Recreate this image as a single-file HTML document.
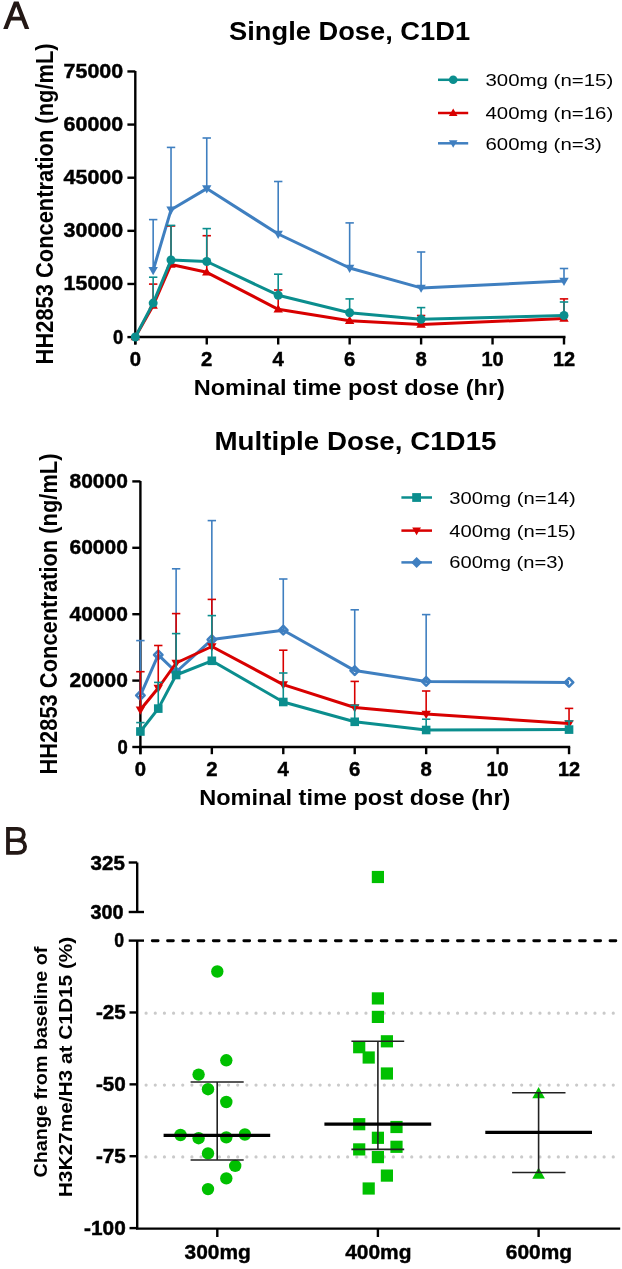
<!DOCTYPE html><html><head><meta charset="utf-8"><title>Figure</title><style>html,body{margin:0;padding:0;background:#fff;overflow:hidden}svg{display:block;will-change:transform}text{font-family:"Liberation Sans",sans-serif}</style></head><body>
<svg width="622" height="1269" viewBox="0 0 622 1269">
<rect width="622" height="1269" fill="#fff"/>
<path d="M3.2 28.9 L13.9 1.6 L18.6 1.6 L29.3 28.9 L24.8 28.9 L21.47 20.4 L11.03 20.4 L7.7 28.9 Z M12.44 16.8 L20.06 16.8 L16.25 6.6 Z" fill="#231815" fill-rule="evenodd"/>
<path d="M8.0 828.85 L17.2 828.85 C21.6 828.85 23.8 831.3 23.8 834.5 C23.8 837.8 21.4 840.3 17.4 840.3 C22.4 840.3 25.1 843.0 25.1 846.6 C25.1 850.3 22.5 852.8 17.8 852.8 L8.0 852.8 Z" fill="none" stroke="#231815" stroke-width="3.8" stroke-linejoin="miter"/>
<line x1="8.0" y1="840.3" x2="18" y2="840.3" stroke="#231815" stroke-width="3.4"/>
<text x="349.55" y="39.8" font-size="26" font-weight="bold" text-anchor="middle" fill="#000" textLength="241" lengthAdjust="spacingAndGlyphs">Single Dose, C1D1</text>
<line x1="135.3" y1="71.0" x2="135.3" y2="344.5" stroke="#000" stroke-width="2.4"/>
<line x1="127.4" y1="337.1" x2="135.3" y2="337.1" stroke="#000" stroke-width="2.4"/>
<text x="123.2" y="343.6" font-size="19.6" font-weight="bold" text-anchor="end" fill="#000" textLength="10.3" lengthAdjust="spacingAndGlyphs" stroke="#000" stroke-width="0.45">0</text>
<line x1="127.4" y1="283.97" x2="135.3" y2="283.97" stroke="#000" stroke-width="2.4"/>
<text x="123.2" y="290.47" font-size="19.6" font-weight="bold" text-anchor="end" fill="#000" textLength="59.6" lengthAdjust="spacingAndGlyphs" stroke="#000" stroke-width="0.45">15000</text>
<line x1="127.4" y1="230.84000000000003" x2="135.3" y2="230.84000000000003" stroke="#000" stroke-width="2.4"/>
<text x="123.2" y="237.34000000000003" font-size="19.6" font-weight="bold" text-anchor="end" fill="#000" textLength="59.6" lengthAdjust="spacingAndGlyphs" stroke="#000" stroke-width="0.45">30000</text>
<line x1="127.4" y1="177.71" x2="135.3" y2="177.71" stroke="#000" stroke-width="2.4"/>
<text x="123.2" y="184.21" font-size="19.6" font-weight="bold" text-anchor="end" fill="#000" textLength="59.6" lengthAdjust="spacingAndGlyphs" stroke="#000" stroke-width="0.45">45000</text>
<line x1="127.4" y1="124.58000000000001" x2="135.3" y2="124.58000000000001" stroke="#000" stroke-width="2.4"/>
<text x="123.2" y="131.08" font-size="19.6" font-weight="bold" text-anchor="end" fill="#000" textLength="59.6" lengthAdjust="spacingAndGlyphs" stroke="#000" stroke-width="0.45">60000</text>
<line x1="127.4" y1="71.44999999999999" x2="135.3" y2="71.44999999999999" stroke="#000" stroke-width="2.4"/>
<text x="123.2" y="77.94999999999999" font-size="19.6" font-weight="bold" text-anchor="end" fill="#000" textLength="59.6" lengthAdjust="spacingAndGlyphs" stroke="#000" stroke-width="0.45">75000</text>
<line x1="134.10000000000002" y1="337.0" x2="565.5" y2="337.0" stroke="#000" stroke-width="2.4"/>
<line x1="135.3" y1="337.0" x2="135.3" y2="344.5" stroke="#000" stroke-width="2.4"/>
<text x="135.3" y="366.3" font-size="19.6" font-weight="bold" text-anchor="middle" fill="#000" textLength="11.3" lengthAdjust="spacingAndGlyphs" stroke="#000" stroke-width="0.45">0</text>
<line x1="206.75" y1="337.0" x2="206.75" y2="344.5" stroke="#000" stroke-width="2.4"/>
<text x="206.75" y="366.3" font-size="19.6" font-weight="bold" text-anchor="middle" fill="#000" textLength="11.3" lengthAdjust="spacingAndGlyphs" stroke="#000" stroke-width="0.45">2</text>
<line x1="278.20000000000005" y1="337.0" x2="278.20000000000005" y2="344.5" stroke="#000" stroke-width="2.4"/>
<text x="278.20000000000005" y="366.3" font-size="19.6" font-weight="bold" text-anchor="middle" fill="#000" textLength="11.3" lengthAdjust="spacingAndGlyphs" stroke="#000" stroke-width="0.45">4</text>
<line x1="349.65000000000003" y1="337.0" x2="349.65000000000003" y2="344.5" stroke="#000" stroke-width="2.4"/>
<text x="349.65000000000003" y="366.3" font-size="19.6" font-weight="bold" text-anchor="middle" fill="#000" textLength="11.3" lengthAdjust="spacingAndGlyphs" stroke="#000" stroke-width="0.45">6</text>
<line x1="421.1" y1="337.0" x2="421.1" y2="344.5" stroke="#000" stroke-width="2.4"/>
<text x="421.1" y="366.3" font-size="19.6" font-weight="bold" text-anchor="middle" fill="#000" textLength="11.3" lengthAdjust="spacingAndGlyphs" stroke="#000" stroke-width="0.45">8</text>
<line x1="492.55" y1="337.0" x2="492.55" y2="344.5" stroke="#000" stroke-width="2.4"/>
<text x="492.55" y="366.3" font-size="19.6" font-weight="bold" text-anchor="middle" fill="#000" textLength="22.2" lengthAdjust="spacingAndGlyphs" stroke="#000" stroke-width="0.45">10</text>
<line x1="564.0" y1="337.0" x2="564.0" y2="344.5" stroke="#000" stroke-width="2.4"/>
<text x="564.0" y="366.3" font-size="19.6" font-weight="bold" text-anchor="middle" fill="#000" textLength="22.2" lengthAdjust="spacingAndGlyphs" stroke="#000" stroke-width="0.45">12</text>
<text x="349.3" y="395.0" font-size="22.3" font-weight="bold" text-anchor="middle" fill="#000" textLength="311.2" lengthAdjust="spacingAndGlyphs">Nominal time post dose (hr)</text>
<text transform="translate(52.8 364.4) rotate(-90)" x="0" y="0" font-size="23" font-weight="bold" fill="#000" textLength="321" lengthAdjust="spacingAndGlyphs">HH2853 Concentration (ng/mL)</text>
<line x1="153.16250000000002" y1="270.3" x2="153.16250000000002" y2="219.6" stroke="#3f7fc0" stroke-width="1.6"/>
<line x1="148.96250000000003" y1="219.6" x2="157.3625" y2="219.6" stroke="#3f7fc0" stroke-width="1.6"/>
<line x1="171.025" y1="209.8" x2="171.025" y2="147.4" stroke="#3f7fc0" stroke-width="1.6"/>
<line x1="166.82500000000002" y1="147.4" x2="175.225" y2="147.4" stroke="#3f7fc0" stroke-width="1.6"/>
<line x1="206.75" y1="188.6" x2="206.75" y2="138.0" stroke="#3f7fc0" stroke-width="1.6"/>
<line x1="202.55" y1="138.0" x2="210.95" y2="138.0" stroke="#3f7fc0" stroke-width="1.6"/>
<line x1="278.20000000000005" y1="234.0" x2="278.20000000000005" y2="181.5" stroke="#3f7fc0" stroke-width="1.6"/>
<line x1="274.00000000000006" y1="181.5" x2="282.40000000000003" y2="181.5" stroke="#3f7fc0" stroke-width="1.6"/>
<line x1="349.65000000000003" y1="268.0" x2="349.65000000000003" y2="222.9" stroke="#3f7fc0" stroke-width="1.6"/>
<line x1="345.45000000000005" y1="222.9" x2="353.85" y2="222.9" stroke="#3f7fc0" stroke-width="1.6"/>
<line x1="421.1" y1="287.9" x2="421.1" y2="252.0" stroke="#3f7fc0" stroke-width="1.6"/>
<line x1="416.90000000000003" y1="252.0" x2="425.3" y2="252.0" stroke="#3f7fc0" stroke-width="1.6"/>
<line x1="564.0" y1="281.1" x2="564.0" y2="268.5" stroke="#3f7fc0" stroke-width="1.6"/>
<line x1="559.8" y1="268.5" x2="568.2" y2="268.5" stroke="#3f7fc0" stroke-width="1.6"/>
<polyline points="153.16,270.30 171.03,209.80 206.75,188.60 278.20,234.00 349.65,268.00 421.10,287.90 564.00,281.10" fill="none" stroke="#3f7fc0" stroke-width="3.0" stroke-linejoin="round" stroke-linecap="butt"/>
<polygon points="153.16,275.21 157.86,267.03 148.46,267.03" fill="#3f7fc0"/>
<polygon points="171.03,214.71 175.72,206.53 166.33,206.53" fill="#3f7fc0"/>
<polygon points="206.75,193.51 211.45,185.33 202.05,185.33" fill="#3f7fc0"/>
<polygon points="278.20,238.91 282.90,230.73 273.50,230.73" fill="#3f7fc0"/>
<polygon points="349.65,272.91 354.35,264.73 344.95,264.73" fill="#3f7fc0"/>
<polygon points="421.10,292.81 425.80,284.63 416.40,284.63" fill="#3f7fc0"/>
<polygon points="564.00,286.01 568.70,277.83 559.30,277.83" fill="#3f7fc0"/>
<line x1="153.16250000000002" y1="305.5" x2="153.16250000000002" y2="284.1" stroke="#d80000" stroke-width="1.6"/>
<line x1="148.96250000000003" y1="284.1" x2="157.3625" y2="284.1" stroke="#d80000" stroke-width="1.6"/>
<line x1="171.025" y1="264.5" x2="171.025" y2="226.0" stroke="#d80000" stroke-width="1.6"/>
<line x1="166.82500000000002" y1="226.0" x2="175.225" y2="226.0" stroke="#d80000" stroke-width="1.6"/>
<line x1="206.75" y1="272.3" x2="206.75" y2="235.7" stroke="#d80000" stroke-width="1.6"/>
<line x1="202.55" y1="235.7" x2="210.95" y2="235.7" stroke="#d80000" stroke-width="1.6"/>
<line x1="278.20000000000005" y1="309.3" x2="278.20000000000005" y2="290.0" stroke="#d80000" stroke-width="1.6"/>
<line x1="274.00000000000006" y1="290.0" x2="282.40000000000003" y2="290.0" stroke="#d80000" stroke-width="1.6"/>
<line x1="421.1" y1="324.6" x2="421.1" y2="315.5" stroke="#d80000" stroke-width="1.6"/>
<line x1="416.90000000000003" y1="315.5" x2="425.3" y2="315.5" stroke="#d80000" stroke-width="1.6"/>
<line x1="564.0" y1="318.5" x2="564.0" y2="298.9" stroke="#d80000" stroke-width="1.6"/>
<line x1="559.8" y1="298.9" x2="568.2" y2="298.9" stroke="#d80000" stroke-width="1.6"/>
<polyline points="135.30,337.00 153.16,305.50 171.03,264.50 206.75,272.30 278.20,309.30 349.65,320.70 421.10,324.60 564.00,318.50" fill="none" stroke="#d80000" stroke-width="3.0" stroke-linejoin="round" stroke-linecap="butt"/>
<polygon points="135.30,332.09 140.00,340.27 130.60,340.27" fill="#d80000"/>
<polygon points="153.16,300.59 157.86,308.77 148.46,308.77" fill="#d80000"/>
<polygon points="171.03,259.59 175.72,267.77 166.33,267.77" fill="#d80000"/>
<polygon points="206.75,267.39 211.45,275.57 202.05,275.57" fill="#d80000"/>
<polygon points="278.20,304.39 282.90,312.57 273.50,312.57" fill="#d80000"/>
<polygon points="349.65,315.79 354.35,323.97 344.95,323.97" fill="#d80000"/>
<polygon points="421.10,319.69 425.80,327.87 416.40,327.87" fill="#d80000"/>
<polygon points="564.00,313.59 568.70,321.77 559.30,321.77" fill="#d80000"/>
<line x1="153.16250000000002" y1="303.1" x2="153.16250000000002" y2="277.2" stroke="#0b8e8e" stroke-width="1.6"/>
<line x1="148.96250000000003" y1="277.2" x2="157.3625" y2="277.2" stroke="#0b8e8e" stroke-width="1.6"/>
<line x1="171.025" y1="260.0" x2="171.025" y2="225.4" stroke="#0b8e8e" stroke-width="1.6"/>
<line x1="166.82500000000002" y1="225.4" x2="175.225" y2="225.4" stroke="#0b8e8e" stroke-width="1.6"/>
<line x1="206.75" y1="261.5" x2="206.75" y2="228.6" stroke="#0b8e8e" stroke-width="1.6"/>
<line x1="202.55" y1="228.6" x2="210.95" y2="228.6" stroke="#0b8e8e" stroke-width="1.6"/>
<line x1="278.20000000000005" y1="295.2" x2="278.20000000000005" y2="274.2" stroke="#0b8e8e" stroke-width="1.6"/>
<line x1="274.00000000000006" y1="274.2" x2="282.40000000000003" y2="274.2" stroke="#0b8e8e" stroke-width="1.6"/>
<line x1="349.65000000000003" y1="312.8" x2="349.65000000000003" y2="298.9" stroke="#0b8e8e" stroke-width="1.6"/>
<line x1="345.45000000000005" y1="298.9" x2="353.85" y2="298.9" stroke="#0b8e8e" stroke-width="1.6"/>
<line x1="421.1" y1="319.2" x2="421.1" y2="307.6" stroke="#0b8e8e" stroke-width="1.6"/>
<line x1="416.90000000000003" y1="307.6" x2="425.3" y2="307.6" stroke="#0b8e8e" stroke-width="1.6"/>
<line x1="564.0" y1="315.5" x2="564.0" y2="302.0" stroke="#0b8e8e" stroke-width="1.6"/>
<line x1="559.8" y1="302.0" x2="568.2" y2="302.0" stroke="#0b8e8e" stroke-width="1.6"/>
<polyline points="135.30,337.00 153.16,303.10 171.03,260.00 206.75,261.50 278.20,295.20 349.65,312.80 421.10,319.20 564.00,315.50" fill="none" stroke="#0b8e8e" stroke-width="3.0" stroke-linejoin="round" stroke-linecap="butt"/>
<circle cx="135.3" cy="337" r="4.5" fill="#0b8e8e"/>
<circle cx="153.16250000000002" cy="303.1" r="4.5" fill="#0b8e8e"/>
<circle cx="171.025" cy="260.0" r="4.5" fill="#0b8e8e"/>
<circle cx="206.75" cy="261.5" r="4.5" fill="#0b8e8e"/>
<circle cx="278.20000000000005" cy="295.2" r="4.5" fill="#0b8e8e"/>
<circle cx="349.65000000000003" cy="312.8" r="4.5" fill="#0b8e8e"/>
<circle cx="421.1" cy="319.2" r="4.5" fill="#0b8e8e"/>
<circle cx="564.0" cy="315.5" r="4.5" fill="#0b8e8e"/>
<line x1="438" y1="79.8" x2="468.2" y2="79.8" stroke="#0b8e8e" stroke-width="2.5"/>
<circle cx="453.2" cy="79.8" r="4.3" fill="#0b8e8e"/>
<text x="485.5" y="85.9" font-size="16.4" font-weight="normal" text-anchor="start" fill="#000" textLength="127.7" lengthAdjust="spacingAndGlyphs">300mg (n=15)</text>
<line x1="438" y1="113.0" x2="468.2" y2="113.0" stroke="#d80000" stroke-width="2.5"/>
<polygon points="453.20,108.51 457.50,115.99 448.90,115.99" fill="#d80000"/>
<text x="485.5" y="119.3" font-size="16.4" font-weight="normal" text-anchor="start" fill="#000" textLength="127.7" lengthAdjust="spacingAndGlyphs">400mg (n=16)</text>
<line x1="438" y1="143.3" x2="468.2" y2="143.3" stroke="#3f7fc0" stroke-width="2.5"/>
<polygon points="453.20,147.79 457.50,140.31 448.90,140.31" fill="#3f7fc0"/>
<text x="485.5" y="149.6" font-size="16.4" font-weight="normal" text-anchor="start" fill="#000" textLength="116.3" lengthAdjust="spacingAndGlyphs">600mg (n=3)</text>
<text x="355.5" y="449.6" font-size="26" font-weight="bold" text-anchor="middle" fill="#000" textLength="282" lengthAdjust="spacingAndGlyphs">Multiple Dose, C1D15</text>
<line x1="140.4" y1="481.0" x2="140.4" y2="754.2" stroke="#000" stroke-width="2.4"/>
<line x1="132.3" y1="747.0" x2="140.4" y2="747.0" stroke="#000" stroke-width="2.4"/>
<text x="127.8" y="753.5" font-size="19.6" font-weight="bold" text-anchor="end" fill="#000" textLength="10.3" lengthAdjust="spacingAndGlyphs" stroke="#000" stroke-width="0.45">0</text>
<line x1="132.3" y1="680.6" x2="140.4" y2="680.6" stroke="#000" stroke-width="2.4"/>
<text x="127.8" y="687.1" font-size="19.6" font-weight="bold" text-anchor="end" fill="#000" textLength="58.2" lengthAdjust="spacingAndGlyphs" stroke="#000" stroke-width="0.45">20000</text>
<line x1="132.3" y1="614.2" x2="140.4" y2="614.2" stroke="#000" stroke-width="2.4"/>
<text x="127.8" y="620.7" font-size="19.6" font-weight="bold" text-anchor="end" fill="#000" textLength="58.2" lengthAdjust="spacingAndGlyphs" stroke="#000" stroke-width="0.45">40000</text>
<line x1="132.3" y1="547.8" x2="140.4" y2="547.8" stroke="#000" stroke-width="2.4"/>
<text x="127.8" y="554.3" font-size="19.6" font-weight="bold" text-anchor="end" fill="#000" textLength="58.2" lengthAdjust="spacingAndGlyphs" stroke="#000" stroke-width="0.45">60000</text>
<line x1="132.3" y1="481.4" x2="140.4" y2="481.4" stroke="#000" stroke-width="2.4"/>
<text x="127.8" y="487.9" font-size="19.6" font-weight="bold" text-anchor="end" fill="#000" textLength="58.2" lengthAdjust="spacingAndGlyphs" stroke="#000" stroke-width="0.45">80000</text>
<line x1="139.20000000000002" y1="747.0" x2="570.2" y2="747.0" stroke="#000" stroke-width="2.4"/>
<line x1="140.4" y1="747.0" x2="140.4" y2="754.2" stroke="#000" stroke-width="2.4"/>
<text x="140.4" y="776.2" font-size="19.6" font-weight="bold" text-anchor="middle" fill="#000" textLength="11.3" lengthAdjust="spacingAndGlyphs" stroke="#000" stroke-width="0.45">0</text>
<line x1="211.84" y1="747.0" x2="211.84" y2="754.2" stroke="#000" stroke-width="2.4"/>
<text x="211.84" y="776.2" font-size="19.6" font-weight="bold" text-anchor="middle" fill="#000" textLength="11.3" lengthAdjust="spacingAndGlyphs" stroke="#000" stroke-width="0.45">2</text>
<line x1="283.28" y1="747.0" x2="283.28" y2="754.2" stroke="#000" stroke-width="2.4"/>
<text x="283.28" y="776.2" font-size="19.6" font-weight="bold" text-anchor="middle" fill="#000" textLength="11.3" lengthAdjust="spacingAndGlyphs" stroke="#000" stroke-width="0.45">4</text>
<line x1="354.72" y1="747.0" x2="354.72" y2="754.2" stroke="#000" stroke-width="2.4"/>
<text x="354.72" y="776.2" font-size="19.6" font-weight="bold" text-anchor="middle" fill="#000" textLength="11.3" lengthAdjust="spacingAndGlyphs" stroke="#000" stroke-width="0.45">6</text>
<line x1="426.15999999999997" y1="747.0" x2="426.15999999999997" y2="754.2" stroke="#000" stroke-width="2.4"/>
<text x="426.15999999999997" y="776.2" font-size="19.6" font-weight="bold" text-anchor="middle" fill="#000" textLength="11.3" lengthAdjust="spacingAndGlyphs" stroke="#000" stroke-width="0.45">8</text>
<line x1="497.6" y1="747.0" x2="497.6" y2="754.2" stroke="#000" stroke-width="2.4"/>
<text x="497.6" y="776.2" font-size="19.6" font-weight="bold" text-anchor="middle" fill="#000" textLength="22.2" lengthAdjust="spacingAndGlyphs" stroke="#000" stroke-width="0.45">10</text>
<line x1="569.04" y1="747.0" x2="569.04" y2="754.2" stroke="#000" stroke-width="2.4"/>
<text x="569.04" y="776.2" font-size="19.6" font-weight="bold" text-anchor="middle" fill="#000" textLength="22.2" lengthAdjust="spacingAndGlyphs" stroke="#000" stroke-width="0.45">12</text>
<text x="354.8" y="805.3" font-size="22.3" font-weight="bold" text-anchor="middle" fill="#000" textLength="311.2" lengthAdjust="spacingAndGlyphs">Nominal time post dose (hr)</text>
<text transform="translate(57.3 774.5) rotate(-90)" x="0" y="0" font-size="23" font-weight="bold" fill="#000" textLength="321" lengthAdjust="spacingAndGlyphs">HH2853 Concentration (ng/mL)</text>
<line x1="140.4" y1="695.3" x2="140.4" y2="640.6" stroke="#3f7fc0" stroke-width="1.6"/>
<line x1="136.20000000000002" y1="640.6" x2="144.6" y2="640.6" stroke="#3f7fc0" stroke-width="1.6"/>
<line x1="176.12" y1="672.0" x2="176.12" y2="568.8" stroke="#3f7fc0" stroke-width="1.6"/>
<line x1="171.92000000000002" y1="568.8" x2="180.32" y2="568.8" stroke="#3f7fc0" stroke-width="1.6"/>
<line x1="211.84" y1="639.6" x2="211.84" y2="520.6" stroke="#3f7fc0" stroke-width="1.6"/>
<line x1="207.64000000000001" y1="520.6" x2="216.04" y2="520.6" stroke="#3f7fc0" stroke-width="1.6"/>
<line x1="283.28" y1="630.2" x2="283.28" y2="579.0" stroke="#3f7fc0" stroke-width="1.6"/>
<line x1="279.08" y1="579.0" x2="287.47999999999996" y2="579.0" stroke="#3f7fc0" stroke-width="1.6"/>
<line x1="354.72" y1="670.6" x2="354.72" y2="609.8" stroke="#3f7fc0" stroke-width="1.6"/>
<line x1="350.52000000000004" y1="609.8" x2="358.92" y2="609.8" stroke="#3f7fc0" stroke-width="1.6"/>
<line x1="426.15999999999997" y1="681.4" x2="426.15999999999997" y2="614.6" stroke="#3f7fc0" stroke-width="1.6"/>
<line x1="421.96" y1="614.6" x2="430.35999999999996" y2="614.6" stroke="#3f7fc0" stroke-width="1.6"/>
<polyline points="140.40,695.30 158.26,654.80 176.12,672.00 211.84,639.60 283.28,630.20 354.72,670.60 426.16,681.40 569.04,682.40" fill="none" stroke="#3f7fc0" stroke-width="3.0" stroke-linejoin="round" stroke-linecap="butt"/>
<polygon points="140.4,691.10 144.60,695.3 140.4,699.50 136.20,695.3" fill="none" stroke="#3f7fc0" stroke-width="2.6" stroke-linejoin="round"/>
<polygon points="158.26,650.60 162.46,654.8 158.26,659.00 154.06,654.8" fill="none" stroke="#3f7fc0" stroke-width="2.6" stroke-linejoin="round"/>
<polygon points="176.12,667.80 180.32,672.0 176.12,676.20 171.92,672.0" fill="none" stroke="#3f7fc0" stroke-width="2.6" stroke-linejoin="round"/>
<polygon points="211.84,635.40 216.04,639.6 211.84,643.80 207.64,639.6" fill="none" stroke="#3f7fc0" stroke-width="2.6" stroke-linejoin="round"/>
<polygon points="283.28,626.00 287.48,630.2 283.28,634.40 279.08,630.2" fill="none" stroke="#3f7fc0" stroke-width="2.6" stroke-linejoin="round"/>
<polygon points="354.72,666.40 358.92,670.6 354.72,674.80 350.52,670.6" fill="none" stroke="#3f7fc0" stroke-width="2.6" stroke-linejoin="round"/>
<polygon points="426.15999999999997,677.20 430.36,681.4 426.15999999999997,685.60 421.96,681.4" fill="none" stroke="#3f7fc0" stroke-width="2.6" stroke-linejoin="round"/>
<polygon points="569.04,678.20 573.24,682.4 569.04,686.60 564.84,682.4" fill="none" stroke="#3f7fc0" stroke-width="2.6" stroke-linejoin="round"/>
<line x1="140.4" y1="709.8" x2="140.4" y2="671.7" stroke="#d80000" stroke-width="1.6"/>
<line x1="136.20000000000002" y1="671.7" x2="144.6" y2="671.7" stroke="#d80000" stroke-width="1.6"/>
<line x1="158.26" y1="688.0" x2="158.26" y2="645.5" stroke="#d80000" stroke-width="1.6"/>
<line x1="154.06" y1="645.5" x2="162.45999999999998" y2="645.5" stroke="#d80000" stroke-width="1.6"/>
<line x1="176.12" y1="663.0" x2="176.12" y2="613.6" stroke="#d80000" stroke-width="1.6"/>
<line x1="171.92000000000002" y1="613.6" x2="180.32" y2="613.6" stroke="#d80000" stroke-width="1.6"/>
<line x1="211.84" y1="646.5" x2="211.84" y2="599.4" stroke="#d80000" stroke-width="1.6"/>
<line x1="207.64000000000001" y1="599.4" x2="216.04" y2="599.4" stroke="#d80000" stroke-width="1.6"/>
<line x1="283.28" y1="684.6" x2="283.28" y2="650.2" stroke="#d80000" stroke-width="1.6"/>
<line x1="279.08" y1="650.2" x2="287.47999999999996" y2="650.2" stroke="#d80000" stroke-width="1.6"/>
<line x1="354.72" y1="707.5" x2="354.72" y2="681.4" stroke="#d80000" stroke-width="1.6"/>
<line x1="350.52000000000004" y1="681.4" x2="358.92" y2="681.4" stroke="#d80000" stroke-width="1.6"/>
<line x1="426.15999999999997" y1="714.0" x2="426.15999999999997" y2="691.0" stroke="#d80000" stroke-width="1.6"/>
<line x1="421.96" y1="691.0" x2="430.35999999999996" y2="691.0" stroke="#d80000" stroke-width="1.6"/>
<line x1="569.04" y1="723.5" x2="569.04" y2="708.4" stroke="#d80000" stroke-width="1.6"/>
<line x1="564.8399999999999" y1="708.4" x2="573.24" y2="708.4" stroke="#d80000" stroke-width="1.6"/>
<polyline points="140.40,709.80 158.26,688.00 176.12,663.00 211.84,646.50 283.28,684.60 354.72,707.50 426.16,714.00 569.04,723.50" fill="none" stroke="#d80000" stroke-width="3.0" stroke-linejoin="round" stroke-linecap="butt"/>
<polygon points="140.40,714.71 145.10,706.53 135.70,706.53" fill="#d80000"/>
<polygon points="158.26,692.91 162.96,684.73 153.56,684.73" fill="#d80000"/>
<polygon points="176.12,667.91 180.82,659.73 171.42,659.73" fill="#d80000"/>
<polygon points="211.84,651.41 216.54,643.23 207.14,643.23" fill="#d80000"/>
<polygon points="283.28,689.51 287.98,681.33 278.58,681.33" fill="#d80000"/>
<polygon points="354.72,712.41 359.42,704.23 350.02,704.23" fill="#d80000"/>
<polygon points="426.16,718.91 430.86,710.73 421.46,710.73" fill="#d80000"/>
<polygon points="569.04,728.41 573.74,720.23 564.34,720.23" fill="#d80000"/>
<line x1="140.4" y1="731.5" x2="140.4" y2="722.6" stroke="#0b8e8e" stroke-width="1.6"/>
<line x1="136.20000000000002" y1="722.6" x2="144.6" y2="722.6" stroke="#0b8e8e" stroke-width="1.6"/>
<line x1="158.26" y1="708.6" x2="158.26" y2="682.4" stroke="#0b8e8e" stroke-width="1.6"/>
<line x1="154.06" y1="682.4" x2="162.45999999999998" y2="682.4" stroke="#0b8e8e" stroke-width="1.6"/>
<line x1="176.12" y1="675.0" x2="176.12" y2="633.6" stroke="#0b8e8e" stroke-width="1.6"/>
<line x1="171.92000000000002" y1="633.6" x2="180.32" y2="633.6" stroke="#0b8e8e" stroke-width="1.6"/>
<line x1="211.84" y1="660.8" x2="211.84" y2="615.6" stroke="#0b8e8e" stroke-width="1.6"/>
<line x1="207.64000000000001" y1="615.6" x2="216.04" y2="615.6" stroke="#0b8e8e" stroke-width="1.6"/>
<line x1="283.28" y1="702.0" x2="283.28" y2="673.0" stroke="#0b8e8e" stroke-width="1.6"/>
<line x1="279.08" y1="673.0" x2="287.47999999999996" y2="673.0" stroke="#0b8e8e" stroke-width="1.6"/>
<line x1="354.72" y1="721.8" x2="354.72" y2="705.3" stroke="#0b8e8e" stroke-width="1.6"/>
<line x1="350.52000000000004" y1="705.3" x2="358.92" y2="705.3" stroke="#0b8e8e" stroke-width="1.6"/>
<line x1="426.15999999999997" y1="730.0" x2="426.15999999999997" y2="719.2" stroke="#0b8e8e" stroke-width="1.6"/>
<line x1="421.96" y1="719.2" x2="430.35999999999996" y2="719.2" stroke="#0b8e8e" stroke-width="1.6"/>
<line x1="569.04" y1="729.6" x2="569.04" y2="721.0" stroke="#0b8e8e" stroke-width="1.6"/>
<line x1="564.8399999999999" y1="721.0" x2="573.24" y2="721.0" stroke="#0b8e8e" stroke-width="1.6"/>
<polyline points="140.40,731.50 158.26,708.60 176.12,675.00 211.84,660.80 283.28,702.00 354.72,721.80 426.16,730.00 569.04,729.60" fill="none" stroke="#0b8e8e" stroke-width="3.0" stroke-linejoin="round" stroke-linecap="butt"/>
<rect x="136.1" y="727.2" width="8.6" height="8.6" fill="#0b8e8e"/>
<rect x="153.95999999999998" y="704.3000000000001" width="8.6" height="8.6" fill="#0b8e8e"/>
<rect x="171.82" y="670.7" width="8.6" height="8.6" fill="#0b8e8e"/>
<rect x="207.54" y="656.5" width="8.6" height="8.6" fill="#0b8e8e"/>
<rect x="278.97999999999996" y="697.7" width="8.6" height="8.6" fill="#0b8e8e"/>
<rect x="350.42" y="717.5" width="8.6" height="8.6" fill="#0b8e8e"/>
<rect x="421.85999999999996" y="725.7" width="8.6" height="8.6" fill="#0b8e8e"/>
<rect x="564.74" y="725.3000000000001" width="8.6" height="8.6" fill="#0b8e8e"/>
<line x1="401.4" y1="497.5" x2="432" y2="497.5" stroke="#0b8e8e" stroke-width="2.5"/>
<rect x="412.20000000000005" y="493.1" width="8.8" height="8.8" fill="#0b8e8e"/>
<text x="449.2" y="504.4" font-size="16.7" font-weight="normal" text-anchor="start" fill="#000" textLength="126.5" lengthAdjust="spacingAndGlyphs">300mg (n=14)</text>
<line x1="401.4" y1="530.6" x2="432" y2="530.6" stroke="#d80000" stroke-width="2.5"/>
<polygon points="416.60,535.19 421.00,527.54 412.20,527.54" fill="#d80000"/>
<text x="449.2" y="537.1" font-size="16.7" font-weight="normal" text-anchor="start" fill="#000" textLength="126.5" lengthAdjust="spacingAndGlyphs">400mg (n=15)</text>
<line x1="401.4" y1="562.4" x2="432" y2="562.4" stroke="#3f7fc0" stroke-width="2.5"/>
<polygon points="416.60,556.90 422.10,562.40 416.60,567.90 411.10,562.40" fill="#3f7fc0"/>
<text x="449.2" y="568.2" font-size="16.7" font-weight="normal" text-anchor="start" fill="#000" textLength="115" lengthAdjust="spacingAndGlyphs">600mg (n=3)</text>
<line x1="137.2" y1="862.5" x2="137.2" y2="912.0" stroke="#000" stroke-width="2.4"/>
<line x1="128.7" y1="862.5" x2="137.2" y2="862.5" stroke="#000" stroke-width="2.4"/>
<line x1="128.7" y1="912.0" x2="144.0" y2="912.0" stroke="#000" stroke-width="2.4"/>
<text x="124.8" y="869.6" font-size="20" font-weight="bold" text-anchor="end" fill="#000" textLength="34.2" lengthAdjust="spacingAndGlyphs" stroke="#000" stroke-width="0.5">325</text>
<text x="123.6" y="918.8" font-size="20" font-weight="bold" text-anchor="end" fill="#000" textLength="33.0" lengthAdjust="spacingAndGlyphs" stroke="#000" stroke-width="0.5">300</text>
<line x1="137.2" y1="940.6" x2="137.2" y2="1229.3" stroke="#000" stroke-width="2.4"/>
<line x1="128.7" y1="940.6" x2="144.0" y2="940.6" stroke="#000" stroke-width="2.4"/>
<line x1="129.5" y1="1012.475" x2="137.2" y2="1012.475" stroke="#000" stroke-width="2.4"/>
<text x="125.7" y="1019.275" font-size="20" font-weight="bold" text-anchor="end" fill="#000" textLength="29.8" lengthAdjust="spacingAndGlyphs" stroke="#000" stroke-width="0.5">-25</text>
<line x1="129.5" y1="1084.35" x2="137.2" y2="1084.35" stroke="#000" stroke-width="2.4"/>
<text x="125.7" y="1091.1499999999999" font-size="20" font-weight="bold" text-anchor="end" fill="#000" textLength="29.8" lengthAdjust="spacingAndGlyphs" stroke="#000" stroke-width="0.5">-50</text>
<line x1="129.5" y1="1156.225" x2="137.2" y2="1156.225" stroke="#000" stroke-width="2.4"/>
<text x="125.7" y="1163.0249999999999" font-size="20" font-weight="bold" text-anchor="end" fill="#000" textLength="29.8" lengthAdjust="spacingAndGlyphs" stroke="#000" stroke-width="0.5">-75</text>
<line x1="129.5" y1="1228.1" x2="137.2" y2="1228.1" stroke="#000" stroke-width="2.4"/>
<text x="125.7" y="1234.8999999999999" font-size="20" font-weight="bold" text-anchor="end" fill="#000" textLength="41.6" lengthAdjust="spacingAndGlyphs" stroke="#000" stroke-width="0.5">-100</text>
<text x="124.1" y="947.2" font-size="20" font-weight="bold" text-anchor="end" fill="#000" textLength="9.8" lengthAdjust="spacingAndGlyphs" stroke="#000" stroke-width="0.5">0</text>
<line x1="152.3" y1="940.7" x2="616.6" y2="940.7" stroke="#000" stroke-width="2.9" stroke-linecap="round" stroke-dasharray="5.8 9.458"/>
<line x1="146.1" y1="1013.1750000000001" x2="616" y2="1013.1750000000001" stroke="#cacaca" stroke-width="3.2" stroke-linecap="round" stroke-dasharray="0.01 9.15"/>
<line x1="146.1" y1="1085.05" x2="616" y2="1085.05" stroke="#cacaca" stroke-width="3.2" stroke-linecap="round" stroke-dasharray="0.01 9.15"/>
<line x1="146.1" y1="1156.925" x2="616" y2="1156.925" stroke="#cacaca" stroke-width="3.2" stroke-linecap="round" stroke-dasharray="0.01 9.15"/>
<line x1="136.0" y1="1228.6" x2="620.2" y2="1228.6" stroke="#000" stroke-width="2.4"/>
<line x1="217.3" y1="1228.6" x2="217.3" y2="1237.0" stroke="#000" stroke-width="2.4"/>
<text x="217.70000000000002" y="1259.2" font-size="19.7" font-weight="bold" text-anchor="middle" fill="#000" textLength="66.3" lengthAdjust="spacingAndGlyphs" stroke="#000" stroke-width="0.4">300mg</text>
<line x1="377.9" y1="1228.6" x2="377.9" y2="1237.0" stroke="#000" stroke-width="2.4"/>
<text x="378.29999999999995" y="1259.2" font-size="19.7" font-weight="bold" text-anchor="middle" fill="#000" textLength="66.3" lengthAdjust="spacingAndGlyphs" stroke="#000" stroke-width="0.4">400mg</text>
<line x1="538.6" y1="1228.6" x2="538.6" y2="1237.0" stroke="#000" stroke-width="2.4"/>
<text x="539.0" y="1259.2" font-size="19.7" font-weight="bold" text-anchor="middle" fill="#000" textLength="66.3" lengthAdjust="spacingAndGlyphs" stroke="#000" stroke-width="0.4">600mg</text>
<text transform="translate(46.8 1177.6) rotate(-90)" x="0" y="0" font-size="18.8" font-weight="bold" fill="#000" textLength="231" lengthAdjust="spacingAndGlyphs">Change from baseline of</text>
<text transform="translate(72.3 1197.2) rotate(-90)" x="0" y="0" font-size="18.8" font-weight="bold" fill="#000" textLength="260.5" lengthAdjust="spacingAndGlyphs">H3K27me/H3 at C1D15 (%)</text>
<circle cx="217.3" cy="971.5" r="6.2" fill="#00c000"/>
<circle cx="226.3" cy="1060.3" r="6.2" fill="#00c000"/>
<circle cx="198.6" cy="1074.6" r="6.2" fill="#00c000"/>
<circle cx="208" cy="1089.2" r="6.2" fill="#00c000"/>
<circle cx="226.3" cy="1102" r="6.2" fill="#00c000"/>
<circle cx="180.5" cy="1135" r="6.2" fill="#00c000"/>
<circle cx="198.6" cy="1138.2" r="6.2" fill="#00c000"/>
<circle cx="226.3" cy="1137.4" r="6.2" fill="#00c000"/>
<circle cx="244.9" cy="1134.5" r="6.2" fill="#00c000"/>
<circle cx="208" cy="1153.4" r="6.2" fill="#00c000"/>
<circle cx="235.2" cy="1165.9" r="6.2" fill="#00c000"/>
<circle cx="226.3" cy="1178.4" r="6.2" fill="#00c000"/>
<circle cx="208" cy="1189.1" r="6.2" fill="#00c000"/>
<rect x="371.80" y="870.90" width="12.2" height="12.2" fill="#00c000"/>
<rect x="371.80" y="992.30" width="12.2" height="12.2" fill="#00c000"/>
<rect x="371.80" y="1010.80" width="12.2" height="12.2" fill="#00c000"/>
<rect x="380.80" y="1035.20" width="12.2" height="12.2" fill="#00c000"/>
<rect x="353.10" y="1041.10" width="12.2" height="12.2" fill="#00c000"/>
<rect x="362.60" y="1051.40" width="12.2" height="12.2" fill="#00c000"/>
<rect x="380.80" y="1067.40" width="12.2" height="12.2" fill="#00c000"/>
<rect x="353.10" y="1118.10" width="12.2" height="12.2" fill="#00c000"/>
<rect x="390.40" y="1120.90" width="12.2" height="12.2" fill="#00c000"/>
<rect x="371.80" y="1131.70" width="12.2" height="12.2" fill="#00c000"/>
<rect x="353.10" y="1143.30" width="12.2" height="12.2" fill="#00c000"/>
<rect x="390.40" y="1140.70" width="12.2" height="12.2" fill="#00c000"/>
<rect x="371.80" y="1151.00" width="12.2" height="12.2" fill="#00c000"/>
<rect x="380.80" y="1169.50" width="12.2" height="12.2" fill="#00c000"/>
<rect x="362.60" y="1182.40" width="12.2" height="12.2" fill="#00c000"/>
<polygon points="538.60,1087.00 544.90,1098.30 532.30,1098.30" fill="#00c000"/>
<polygon points="538.60,1167.50 544.90,1178.80 532.30,1178.80" fill="#00c000"/>
<line x1="217.2" y1="1082.0" x2="217.2" y2="1160.0" stroke="#222" stroke-width="1.6"/>
<line x1="190.6" y1="1082.0" x2="243.7" y2="1082.0" stroke="#222" stroke-width="1.6"/>
<line x1="190.6" y1="1160.0" x2="243.7" y2="1160.0" stroke="#222" stroke-width="1.6"/>
<line x1="163.6" y1="1135.3" x2="270.2" y2="1135.3" stroke="#000" stroke-width="3.2"/>
<line x1="377.9" y1="1041.3" x2="377.9" y2="1149.4" stroke="#222" stroke-width="1.6"/>
<line x1="351.4" y1="1041.3" x2="404.2" y2="1041.3" stroke="#222" stroke-width="1.6"/>
<line x1="351.4" y1="1149.4" x2="404.2" y2="1149.4" stroke="#222" stroke-width="1.6"/>
<line x1="324.4" y1="1124.2" x2="431.2" y2="1124.2" stroke="#000" stroke-width="3.2"/>
<line x1="538.6" y1="1092.8" x2="538.6" y2="1172.5" stroke="#222" stroke-width="1.6"/>
<line x1="512.1" y1="1092.8" x2="565.5" y2="1092.8" stroke="#222" stroke-width="1.6"/>
<line x1="512.1" y1="1172.5" x2="565.5" y2="1172.5" stroke="#222" stroke-width="1.6"/>
<line x1="485.3" y1="1132.4" x2="592.0" y2="1132.4" stroke="#000" stroke-width="3.2"/>
</svg></body></html>
